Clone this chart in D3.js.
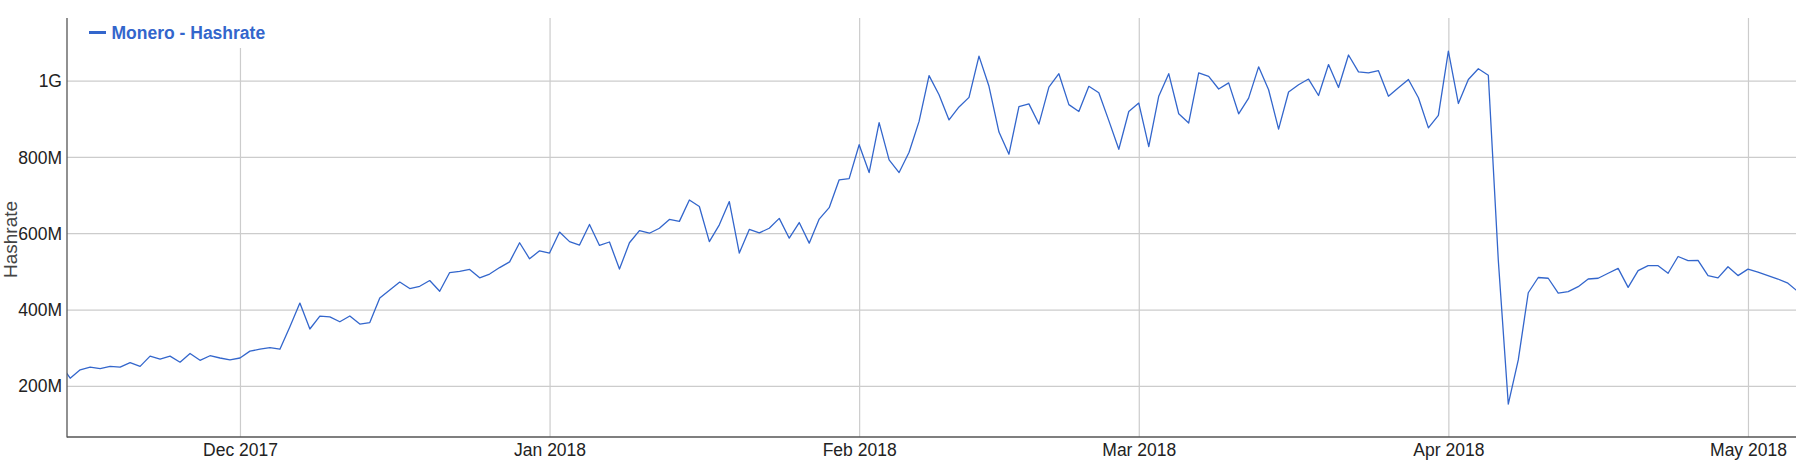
<!DOCTYPE html>
<html>
<head>
<meta charset="utf-8">
<script src="https://cdn.jsdelivr.net/npm/d3@7"></script>
<style>
  html, body { margin: 0; padding: 0; background: #fff; }
  svg { display: block; font-family: Arial, "Liberation Sans", sans-serif; }
</style>
</head>
<body>
<svg id="chart" width="1796" height="463"></svg>
<script>
// daily hashrate, millions (H/s), first day 13 Nov 2017
const startDay = Date.UTC(2017, 10, 13);
const novValues = [258, 220, 242, 249, 245, 251, 249, 261, 251, 278, 270, 278, 262, 285, 267, 279, 273, 268];
const decValues = [273, 291, 296, 300, 296, 355, 417, 349, 383, 381, 368, 383, 362, 366, 430, 451, 472, 455, 461, 476, 448, 497, 500, 505, 483, 493, 510, 525, 575, 533, 554];
const janValues = [548, 603, 578, 569, 623, 568, 577, 506, 575, 607, 600, 613, 636, 631, 687, 670, 578, 622, 683, 548, 610, 601, 613, 639, 587, 628, 574, 637, 667, 740, 743];
const febValues = [832, 759, 890, 792, 759, 812, 893, 1013, 963, 897, 931, 956, 1064, 985, 865, 807, 932, 939, 886, 983, 1018, 937, 919, 985, 968, 895, 820, 919];
const marValues = [941, 827, 959, 1018, 913, 889, 1020, 1011, 978, 994, 913, 954, 1036, 976, 873, 970, 989, 1004, 961, 1042, 982, 1067, 1023, 1020, 1026, 959, 981, 1003, 955, 876, 909];
const aprValues = [1077, 940, 1003, 1031, 1014, 529, 152, 268, 444, 484, 482, 443, 447, 460, 480, 482, 495, 508, 458, 502, 515, 515, 495, 539, 528, 529, 489, 483, 512, 489];
const mayValues = [506, 498, 489, 480, 469, 447];

const yTickValues = [200, 400, 600, 800, 1000];
const yTickLabels = ["200M", "400M", "600M", "800M", "1G"];
const seriesName = "Monero - Hashrate";
const yTitle = "Hashrate";

const DAY = 864e5;
const values = [].concat(novValues, decValues, janValues, febValues, marValues, aprValues, mayValues);
const data = values.map((v, i) => ({ date: new Date(startDay + i * DAY), value: v }));

/* layout */
const plotL = 67, plotR = 1796, plotT = 18, plotB = 437;
const blue = "#3366cc";

const svg = d3.select("#chart");

const x = d3.scaleUtc()
  .domain([new Date(Date.UTC(2017, 10, 13, 16, 20)), new Date(Date.UTC(2018, 4, 5, 19, 25))])
  .range([plotL, plotR]);
const y = d3.scaleLinear().domain([66, 1164]).range([plotB, plotT]);

// horizontal gridlines + labels
const yAxis = svg.append("g")
  .attr("transform", `translate(${plotL},0)`)
  .call(d3.axisLeft(y)
    .tickValues(yTickValues)
    .tickFormat((d, i) => yTickLabels[i])
    .tickSize(-(plotR - plotL))
    .tickPadding(5));
yAxis.select(".domain").remove();
yAxis.selectAll(".tick line").attr("stroke", "#cccccc").attr("stroke-width", 1.2);
yAxis.selectAll(".tick text")
  .attr("fill", "#222").style("font-size", "17.5px").attr("dy", "0.35em");

// vertical gridlines at month starts
const xAxis = svg.append("g")
  .attr("transform", `translate(0,${plotB})`)
  .call(d3.axisBottom(x)
    .ticks(d3.utcMonth.every(1))
    .tickFormat(d3.utcFormat("%b %Y"))
    .tickSize(-(plotB - plotT))
    .tickPadding(7));
xAxis.select(".domain").remove();
xAxis.selectAll(".tick line").attr("stroke", "#cccccc").attr("stroke-width", 1.2);
xAxis.selectAll(".tick text")
  .attr("fill", "#222").style("font-size", "17.5px");

// series line, clipped to plot area
svg.append("clipPath").attr("id", "plot-clip")
  .append("rect").attr("x", plotL).attr("y", plotT).attr("width", plotR - plotL).attr("height", plotB - plotT);

const line = d3.line().x(d => x(d.date)).y(d => y(d.value));
svg.append("path")
  .datum(data)
  .attr("clip-path", "url(#plot-clip)")
  .attr("fill", "none")
  .attr("stroke", blue)
  .attr("stroke-width", 1.3)
  .attr("stroke-linejoin", "round")
  .attr("d", line);

// axis baselines
svg.append("line").attr("x1", plotL).attr("x2", plotL).attr("y1", plotT).attr("y2", plotB + 0.5)
  .attr("stroke", "#555").attr("stroke-width", 1.3);
svg.append("line").attr("x1", plotL).attr("x2", plotR).attr("y1", plotB).attr("y2", plotB)
  .attr("stroke", "#555").attr("stroke-width", 1.3);

// legend
const lg = svg.append("g");
lg.append("rect").attr("x", 84).attr("y", plotT).attr("width", 190).attr("height", 30).attr("fill", "#fff");
lg.append("rect").attr("x", 89).attr("y", 31).attr("width", 17).attr("height", 3).attr("fill", blue);
lg.append("text").attr("x", 111.5).attr("y", 39)
  .attr("fill", blue).style("font-size", "17.5px").style("font-weight", "bold")
  .text(seriesName);

// y title
svg.append("text")
  .attr("transform", `translate(17,239.5) rotate(-90)`)
  .attr("text-anchor", "middle")
  .attr("fill", "#444")
  .style("font-size", "19px")
  .text(yTitle);
</script>
</body>
</html>
